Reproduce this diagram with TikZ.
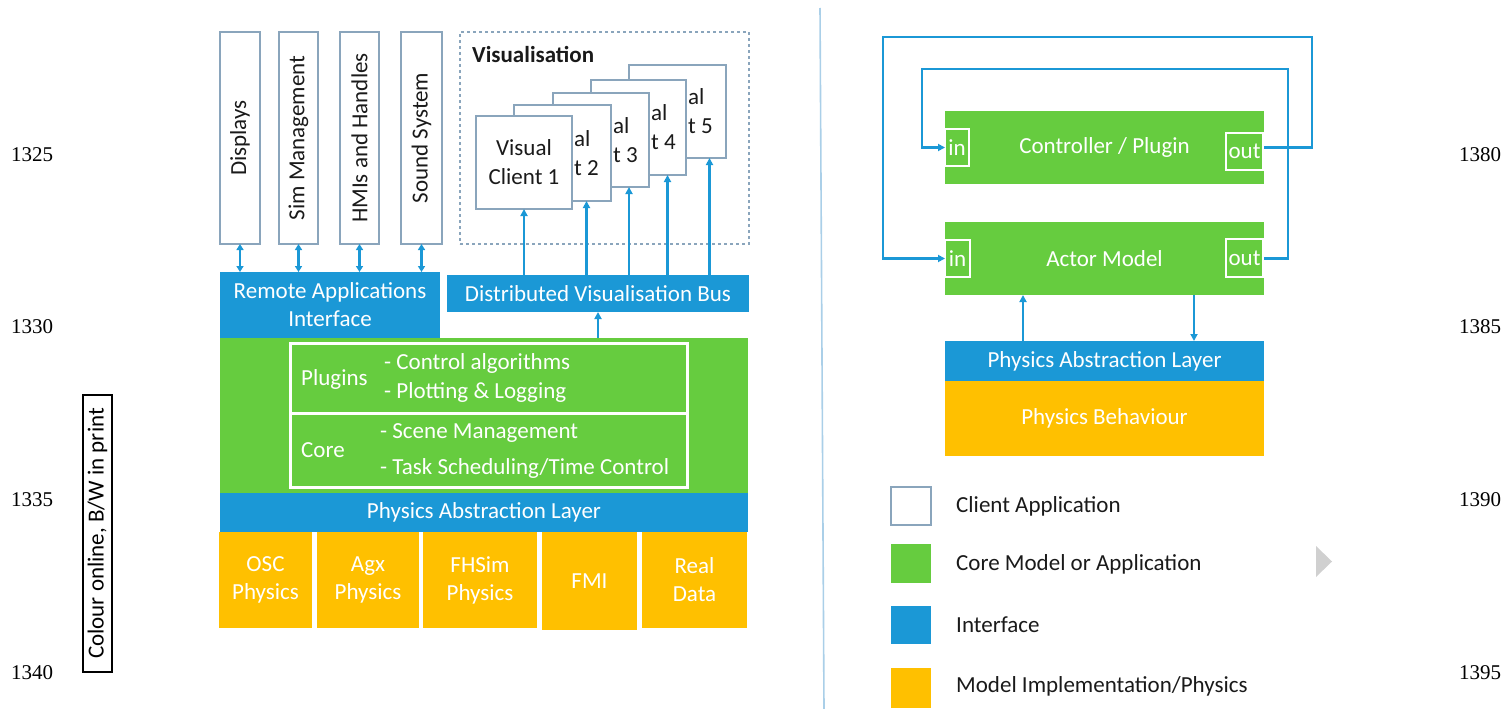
\documentclass[tikz,border=0pt]{standalone}
\usepackage{fontspec}
\setmainfont{Carlito}
\newfontfamily\numfont{Liberation Serif}
\usetikzlibrary{arrows.meta}

\definecolor{coregreen}{HTML}{66CC3F}
\definecolor{ifblue}{HTML}{1B98D6}
\definecolor{physyellow}{HTML}{FFC000}
\definecolor{clientedge}{HTML}{8AA5BC}
\definecolor{rulecol}{HTML}{AACFE8}
\definecolor{tricol}{HTML}{D0D0D0}
\definecolor{inktext}{HTML}{1A1A1A}

\newcommand\diaglbl{\fontsize{23}{28}\selectfont}

% box from corner (#2,#3) to corner (#4,#5), style #6, text #7
\newcommand\placebox[7]{%
  \pgfmathsetmacro\pbW{#4-#2}\pgfmathsetmacro\pbH{#5-#3}%
  \pgfmathsetmacro\pbX{(#2+#4)/2}\pgfmathsetmacro\pbY{(#3+#5)/2}%
  \node[#6, minimum width=\pbW pt, minimum height=\pbH pt] (#1) at (\pbX,\pbY) {#7};}

\tikzset{
  base/.style={inner sep=0pt, outer sep=0pt, font=\diaglbl},
  client/.style={base, draw=clientedge, line width=1.4pt, fill=white, text=inktext, align=center},
  core/.style={base, fill=coregreen, text=white, align=center},
  iface/.style={base, fill=ifblue, text=white, align=center},
  phys/.style={base, fill=physyellow, text=white, align=center},
  frame/.style={base, draw=white, line width=3pt},
  port/.style={base, draw=white, line width=1.4pt, text=white},
  vlabel/.style={inner sep=0pt, font=\diaglbl, text=inktext, rotate=90},
  peek/.style={inner sep=0pt, font=\diaglbl, text=inktext, anchor=west, align=left},
  wlabel/.style={inner sep=0pt, font=\diaglbl, text=white, anchor=west},
  key/.style={inner sep=0pt, font=\diaglbl, text=inktext, anchor=west},
  margin/.style={inner sep=0pt, font=\numfont\fontsize{21}{24}\selectfont, text=black},
  flow/.style={draw=ifblue, line width=2.2pt, -{Triangle[length=7pt,width=7pt]}},
  both/.style={draw=ifblue, line width=2.2pt, {Triangle[length=6pt,width=7pt]}-{Triangle[length=6pt,width=7pt]}},
}

\begin{document}
\begin{tikzpicture}[x=1pt,y=-1pt]
\useasboundingbox (0,0) rectangle (1512,709);

% ---------- margin line numbers ----------
\node[margin] (n1325) at (32,155) {1325};
\node[margin] (n1330) at (32,327) {1330};
\node[margin] (n1335) at (32,500) {1335};
\node[margin] (n1340) at (32,673) {1340};
\node[margin] (n1380) at (1480,155) {1380};
\node[margin] (n1385) at (1480,327) {1385};
\node[margin] (n1390) at (1480,500) {1390};
\node[margin] (n1395) at (1480,673) {1395};

% colour note
\node[draw=black, line width=1.5pt, rotate=90, inner sep=0pt, minimum width=277pt,
      minimum height=29pt, font=\fontsize{23}{26}\selectfont] (cnote) at (97.5,533.5)
      {Colour online, B/W in print};

% separating rule
\draw[rulecol, line width=1.6pt] (820,8) -- (824,709);

% ---------- left: client applications ----------
\placebox{disp}{220}{32}{260}{244}{client}{}
\placebox{simm}{279}{32}{318}{244}{client}{}
\placebox{hmis}{340}{32}{379}{244}{client}{}
\placebox{snd}{401}{32}{442}{244}{client}{}
\node[vlabel] (dispT) at (disp.center) {Displays};
\node[vlabel] (simmT) at (simm.center) {Sim Management};
\node[vlabel] (hmisT) at (hmis.center) {HMIs and Handles};
\node[vlabel] (sndT) at (snd.center) {Sound System};

% visualisation group: stacked client windows, each partly hidden by the next
\placebox{vis}{460}{32}{749}{244}{base, draw=clientedge, line width=1.2pt, dash pattern=on 3pt off 3pt}{}
\node[inner sep=0pt, anchor=west, font=\diaglbl\bfseries, text=inktext] (visT) at (472,54) {Visualisation};
\placebox{c5}{629}{65}{726}{158}{client}{}
\placebox{c4}{591}{80}{686}{175}{client}{}
\placebox{c3}{553}{93}{649}{187}{client}{}
\placebox{c2}{514}{105}{611}{201}{client}{}
\placebox{c1}{476}{116}{572}{209}{client}{Visual\\[1pt]Client 1}
\node[peek] (c2T) at ([xshift=2pt]c1.east |- c2.center) {al\\[1pt]t 2};
\node[peek] (c3T) at ([xshift=2pt]c2.east |- c3.center) {al\\[1pt]t 3};
\node[peek] (c4T) at ([xshift=2pt]c3.east |- c4.center) {al\\[1pt]t 4};
\node[peek] (c5T) at ([xshift=2pt]c4.east |- c5.center) {al\\[1pt]t 5};

% interfaces
\placebox{rai}{220}{272}{440}{338}{iface}{Remote Applications\\Interface}
\placebox{bus}{447}{275}{749}{312}{iface}{Distributed Visualisation Bus}

% core application
\placebox{core}{220}{338}{748}{493}{core}{}
\placebox{plug}{290}{343}{687}{413}{frame}{}
\placebox{kern}{290}{413}{687}{487}{frame}{}
\node[wlabel] (plugT) at (301,379) {Plugins};
\node[wlabel] (plugA) at (384,363) {- Control algorithms};
\node[wlabel] (plugB) at (384,392) {- Plotting \& Logging};
\node[wlabel] (kernT) at (301,450) {Core};
\node[wlabel] (kernA) at (380,433) {- Scene Management};
\node[wlabel] (kernB) at (380,468) {- Task Scheduling/Time Control};

% physics
\placebox{pal}{220}{493}{748}{532}{iface}{Physics Abstraction Layer}
\placebox{osc}{219}{532}{312}{628}{phys}{OSC\\Physics}
\placebox{agx}{317}{532}{419}{628}{phys}{Agx\\Physics}
\placebox{fhs}{423}{532}{537}{628}{phys}{FHSim\\Physics}
\placebox{fmi}{542}{532}{637}{630}{phys}{FMI}
\placebox{real}{642}{532}{747}{628}{phys}{Real\\Data}

% connectors, left
\foreach \b in {disp,simm,hmis,snd}
  \draw[both] (\b.south) -- (\b.south |- rai.north);
\coordinate (c1b) at (c1.south);
\coordinate (c2b) at ([xshift=24pt]c2.south);
\coordinate (c3b) at ([xshift=28pt]c3.south);
\coordinate (c4b) at ([xshift=29pt]c4.south);
\coordinate (c5b) at ([xshift=32pt]c5.south);
\foreach \c in {c1b,c2b,c3b,c4b,c5b}
  \draw[flow] (\c |- bus.north) -- (\c);
\draw[flow] (bus.south |- core.north) -- (bus.south);

% ---------- right: model loop ----------
\placebox{ctrl}{945}{111}{1264}{184}{core}{Controller / Plugin}
\placebox{ctrlin}{945}{129}{969}{166}{port}{in}
\placebox{ctrlout}{1226}{133}{1263}{170}{port}{out}
\placebox{actor}{945}{222}{1264}{295}{core}{Actor Model}
\placebox{actin}{945}{240}{970}{277}{port}{in}
\placebox{actout}{1226}{239}{1263}{277}{port}{out}
\placebox{pal2}{945}{341}{1264}{381}{iface}{Physics Abstraction Layer}
\placebox{beh}{945}{381}{1264}{456}{phys}{Physics Behaviour}

\coordinate (oTR) at (1312,37);
\coordinate (oTL) at (883,37);
\coordinate (iTR) at (1288,69);
\coordinate (iTL) at (922,69);
\draw[flow] (ctrl.east) -| (oTR) -- (oTL) |- (actin.west);
\draw[flow] (actor.east) -| (iTR) -- (iTL) |- (ctrlin.west);

\coordinate (upx) at (1023,341);
\coordinate (dnx) at (1194,295);
\draw[flow] (upx) -- (upx |- actor.south);
\draw[flow] (dnx) -- (dnx |- pal2.north);

% legend
\placebox{kc}{891}{487}{931}{525}{client}{}
\placebox{kg}{891}{544}{931}{583}{core}{}
\placebox{kb}{891}{606}{931}{644}{iface}{}
\placebox{ky}{891}{668}{931}{708}{phys}{}
\node[key] (kcT) at (956,506) {Client Application};
\node[key] (kgT) at (956,564) {Core Model or Application};
\node[key] (kbT) at (956,625) {Interface};
\node[key] (kyT) at (956,686) {Model Implementation/Physics};

% page-turn marker
\fill[tricol] (1316,546) -- (1332,561.5) -- (1316,577) -- cycle;
\end{tikzpicture}
\end{document}
